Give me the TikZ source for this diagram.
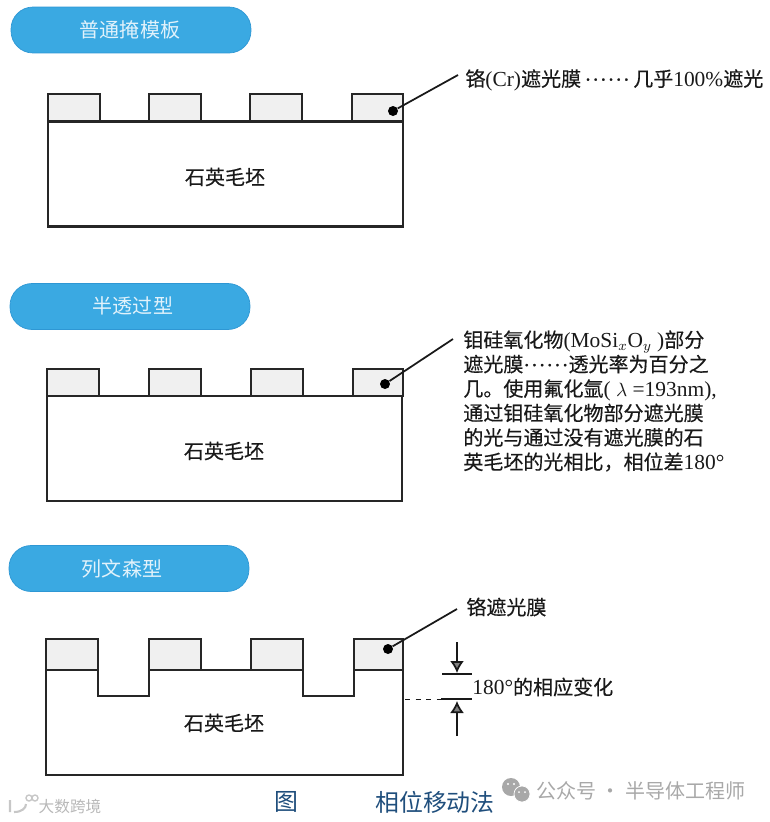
\documentclass[tikz,border=0pt]{standalone}
\usepackage{fontspec}
\setmainfont[Scale=1.07]{Liberation Serif}
\newfontfamily\cjk[FakeBold=0.35]{Noto Sans CJK SC}
\newfontfamily\cjklight{Noto Sans CJK SC}
\newfontfamily\dotfont[LetterSpace=5,FakeBold=1.2]{Liberation Serif}
\usetikzlibrary{arrows.meta}
\definecolor{pillblue}{HTML}{3AA9E2}
\definecolor{pilledge}{HTML}{2E97D4}
\definecolor{capblue}{HTML}{1F4E7C}
\definecolor{markgray}{HTML}{A8A8A8}
\newcommand{\dotrun}{{\dotfont ······}}
\tikzset{
    pill/.style={draw=pilledge, fill=pillblue, rounded corners=0.44cm, minimum width=4.8cm, minimum height=0.92cm, inner sep=0pt},
    pilltext/.style={inner sep=0pt, text=white!85!pillblue, font=\cjklight\fontsize{11.4}{13.9}\selectfont},
    film/.style={draw=black!85, line width=1.2pt, fill=black!6, minimum width=1.04cm, minimum height=0.54cm, inner sep=0pt},
    blank/.style={draw=black!85, line width=1.3pt, minimum width=7.1cm, minimum height=2.1cm, inner sep=0pt},
    body/.style={inner sep=0pt, font=\cjk\fontsize{11.4}{13.9}\selectfont, text=black!90},
    note/.style={body, anchor=west, align=left},
    dotmark/.style={circle, fill=black, minimum size=0.2cm, inner sep=0pt},
    leader/.style={draw=black!90, line width=1pt},
}
\begin{document}
\begin{tikzpicture}[x=0.02cm, y=-0.02cm, >=Stealth]
    \useasboundingbox (0,0) rectangle (770,822);

    % Ordinary mask
    \node[pill] (pillA) at (131,30) {};
    \node[pilltext] (titleA) at (130,30) {普通掩模板};
    \node[blank] (blankA) at (225.5,174) {};
    \node[body] (quartzA) at (225,177) {石英毛坯};
    \node[film] (filmAa) at (74,107.5) {};
    \node[film] (filmAb) at (175,107.5) {};
    \node[film] (filmAc) at (276,107.5) {};
    \node[film, minimum width=1.02cm] (filmAd) at (377.5,107.5) {};
    \node[dotmark] (dotA) at (393,111) {};
    \coordinate (tailA) at (458,75);
    \draw[leader] (dotA) -- (tailA);
    \node[note] (noteA) at (465,80) {铬{\rmfamily(Cr)}遮光膜\kern2pt\dotrun\kern2pt 几乎{\rmfamily 100\%}遮光};

    % Half-tone
    \node[pill] (pillB) at (130,306.5) {};
    \node[pilltext] (titleB) at (133,306) {半透过型};
    \node[blank] (blankB) at (224.5,448.5) {};
    \node[body] (quartzB) at (224,451) {石英毛坯};
    \node[film] (filmBa) at (73,382.5) {};
    \node[film] (filmBb) at (175,382.5) {};
    \node[film] (filmBc) at (277,382.5) {};
    \node[film, minimum width=1cm] (filmBd) at (378,382.5) {};
    \node[dotmark] (dotB) at (385,384) {};
    \coordinate (tailB) at (453,339);
    \draw[leader] (dotB) -- (tailB);
    \node[note] (noteB) at (463,401) {钼硅氧化物{\rmfamily(MoSi$_x$O$_y$ )}部分\\
        遮光膜\dotrun{}透光率为百分之\\
        几。使用氟化氩{\rmfamily( $\lambda$ =193nm),}\\
        通过钼硅氧化物部分遮光膜\\
        的光与通过没有遮光膜的石\\
        英毛坯的光相比，相位差{\rmfamily 180°}};

    % Levenson
    \node[pill] (pillC) at (129,568.5) {};
    \node[pilltext] (titleC) at (122,569) {列文森型};
    \draw[draw=black!85, line width=1.3pt] (46,670) -- (98,670) -- (98,696) -- (149,696) -- (149,670) -- (303,670) -- (303,696) -- (354,696) -- (354,670) -- (403,670) -- (403,775) -- (46,775) -- cycle;
    \node[body] (quartzC) at (224,723) {石英毛坯};
    \node[film, minimum height=0.62cm] (filmCa) at (72,654.5) {};
    \node[film, minimum height=0.62cm] (filmCb) at (175,654.5) {};
    \node[film, minimum height=0.62cm] (filmCc) at (277,654.5) {};
    \node[film, minimum height=0.62cm, minimum width=0.98cm] (filmCd) at (378.5,654.5) {};
    \node[dotmark] (dotC) at (388,649) {};
    \coordinate (tailC) at (457,609);
    \draw[leader] (dotC) -- (tailC);
    \node[note] (noteC) at (466,607) {铬遮光膜};

    % Phase step
    \coordinate (stepTop) at (457,642);
    \coordinate (stepUp) at (457,673);
    \coordinate (stepBot) at (457,736);
    \coordinate (stepLow) at (457,701);
    \draw[leader] (442,674) -- (472,674);
    \draw[leader] (441,699) -- (472,699);
    \draw[leader, dashed, line width=0.5pt] (405,699) -- (441,699);
    \draw[leader, -{Latex[length=0.24cm, width=0.28cm, fill=black!50]}] (stepTop) -- (stepUp);
    \draw[leader, -{Latex[length=0.24cm, width=0.28cm, fill=black!50]}] (stepBot) -- (stepLow);
    \node[note] (noteD) at (472,687) {{\rmfamily 180°}的相应变化};

    % Caption
    \node[body, text=capblue, font=\cjklight\fontsize{13.6}{16}\selectfont] (capA) at (286,802) {图};
    \node[body, text=capblue, font=\cjklight\fontsize{13.6}{16}\selectfont] (capB) at (435,802) {相位移动法};

    % Watermarks
    \fill[markgray] (511,787) circle (9);
    \fill[markgray, draw=white, line width=0.4pt] (522,794) circle (8);
    \fill[white] (508,784) circle (1.2) (514,784) circle (1.2) (519,792) circle (1) (525,792) circle (1);
    \node[body, text=markgray, font=\cjklight\fontsize{11.4}{14}\selectfont] (markA) at (641,791) {公众号 · 半导体工程师};
    \draw[black!22, line width=1.2pt] (10,800) -- (10,812) (14,812) .. controls (22,812) and (26,808) .. (26,804);
    \draw[black!22, line width=0.8pt] (29,798) circle (3) (35,798) circle (3);
    \node[body, text=black!28, font=\cjklight\fontsize{8.9}{11}\selectfont] (markB) at (70,807) {大数跨境};
\end{tikzpicture}
\end{document}
